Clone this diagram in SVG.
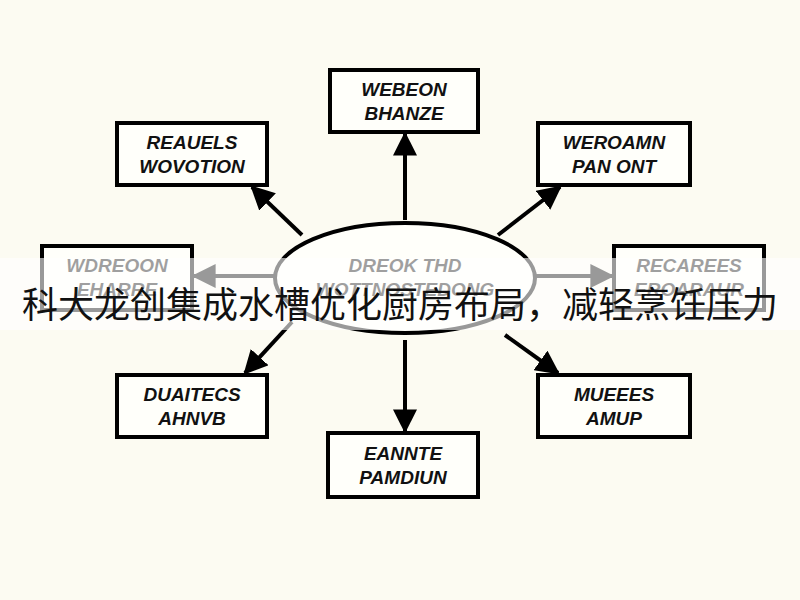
<svg xmlns="http://www.w3.org/2000/svg" width="800" height="600" viewBox="0 0 800 600">
<style>
.box{fill:#fffffa;stroke:#000;stroke-width:4}
.t{font-family:"Liberation Sans",sans-serif;font-weight:bold;font-style:italic;font-size:19px;text-anchor:middle;fill:#111}
.c{stroke:#000;stroke-width:4;fill:none;marker-end:url(#a)}
</style>
<defs><marker id="a" viewBox="0 0 10 10" refX="9" refY="5" markerWidth="6" markerHeight="6" markerUnits="strokeWidth" orient="auto"><path d="M0,0L10,5L0,10Z" fill="#000"/></marker></defs>
<rect width="800" height="600" fill="#fcfbf2"/>
<g id="connectors">
<line class="c" x1="405" y1="220" x2="405" y2="134"/>
<line class="c" x1="302" y1="235" x2="252" y2="187"/>
<line class="c" x1="498" y1="235" x2="560" y2="187"/>
<line class="c" x1="274" y1="276" x2="194" y2="276"/>
<line class="c" x1="536" y1="276" x2="612" y2="276"/>
<line class="c" x1="292" y1="322" x2="245" y2="373"/>
<line class="c" x1="405" y1="340" x2="405" y2="431"/>
<line class="c" x1="505" y1="335" x2="558" y2="373"/>
</g>
<g id="center"><ellipse cx="405" cy="278" rx="130" ry="55" fill="#fffffa" stroke="#000" stroke-width="4"/><text class="t" x="405" y="272">DREOK THD</text><text class="t" x="405" y="296">WOTTNOSTEDONG</text></g>
<g id="n-top"><rect class="box" x="330" y="70" width="148" height="62"/><text class="t" x="404" y="96">WEBEON</text><text class="t" x="404" y="120">BHANZE</text></g>
<g id="n-tl"><rect class="box" x="117" y="123" width="150" height="62"/><text class="t" x="192" y="149">REAUELS</text><text class="t" x="192" y="173">WOVOTION</text></g>
<g id="n-tr"><rect class="box" x="538" y="123" width="152" height="62"/><text class="t" x="614" y="149">WEROAMN</text><text class="t" x="614" y="173">PAN ONT</text></g>
<g id="n-l"><rect class="box" x="42" y="246" width="150" height="64"/><text class="t" x="117" y="272">WDREOON</text><text class="t" x="117" y="296">EHARRE</text></g>
<g id="n-r"><rect class="box" x="614" y="246" width="150" height="64"/><text class="t" x="689" y="272">RECAREES</text><text class="t" x="689" y="296">EROARAUR</text></g>
<g id="n-bl"><rect class="box" x="117" y="375" width="150" height="62"/><text class="t" x="192" y="401">DUAITECS</text><text class="t" x="192" y="425">AHNVB</text></g>
<g id="n-b"><rect class="box" x="328" y="433" width="150" height="64"/><text class="t" x="403" y="460">EANNTE</text><text class="t" x="403" y="484">PAMDIUN</text></g>
<g id="n-br"><rect class="box" x="538" y="375" width="152" height="62"/><text class="t" x="614" y="401">MUEEES</text><text class="t" x="614" y="425">AMUP</text></g>
<rect x="0" y="258" width="800" height="72" fill="#ffffff" opacity="0.6"/>
<text x="400" y="318" font-family="Noto Sans CJK SC,sans-serif" font-size="36" text-anchor="middle" fill="#111">科大龙创集成水槽优化厨房布局，减轻烹饪压力</text>
</svg>
